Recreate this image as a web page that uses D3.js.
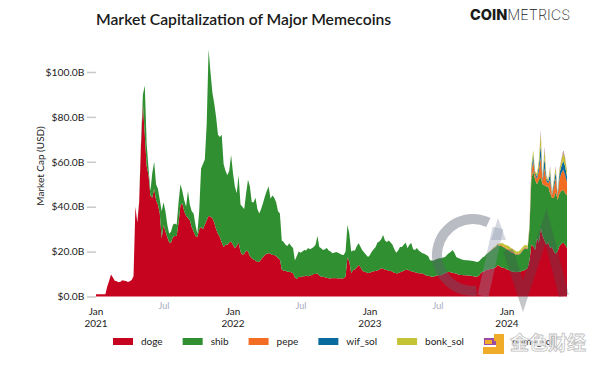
<!DOCTYPE html>
<html>
<head>
<meta charset="utf-8">
<script src="https://cdn.jsdelivr.net/npm/d3@7.9.0/dist/d3.min.js"></script>
<style>
  html, body { margin: 0; background: #fff; }
  svg { display: block; font-family: Lato, sans-serif; }
</style>
</head>
<body>
<svg id="chart" width="600" height="365"></svg>
<script>
// readings are one every 5 days starting 2021-01-01, in $B
const startDate = new Date(2021, 0, 1);
const stepDays = 5;

const doge = [
  1,1,1,1,1,1,4.5,7,9.8,8.5,
  7,6.8,6.4,6.6,7.2,7,6.9,6.5,6.8,7.4,
  9,40,33,42,68,86,72,58,54,45,
  44,48,43,41,37,26,32,29,26.5,24,
  24,26.5,27,27,33,40.7,41.5,38,36,35,
  34,31,29,27,26.5,30,31,30,32,34,
  36,35.5,35,33,30,28,26.5,24,22,23,
  23,24,24.5,23,21.5,22.5,24,20,18.5,19,
  20.5,20,18,17,16.5,16,15.4,15.5,16.5,17.6,
  18.5,19,19.3,19,18.5,18.5,18,17,16.5,12,
  11.5,11.5,11,11,10.8,10.4,8.5,7.8,8.8,8.6,
  9,9,9.2,9,9.2,9.6,10,10,10.4,9.2,
  8.8,8.8,8.6,8.4,8.1,8,8.2,8.1,8.2,8,
  8.1,8,8.1,9,17.5,15.5,10.4,11.8,12,13,
  14,13,11.5,11,10.8,10.5,10.6,11,11.2,11.4,
  11.6,12,12.6,12.4,12,11.8,11.4,11.5,11,10.6,
  10.4,10.4,10.8,11,11.6,11.8,12,11.6,11.2,11,
  10.8,10.6,10.4,10.4,10.2,9.8,9.4,9.2,9,8.8,
  8.8,9.2,9.4,9.6,9.5,10,10.4,10.8,11,10.8,
  10.6,10.4,10.2,9.8,9.6,9.6,9.5,9.5,9.3,9.2,
  9.2,9,8.9,8.8,9.2,10.4,11,11.2,11.8,12,
  12.2,12.4,12.6,13,14,13.6,13,12.8,12.6,12,
  11.8,11.4,11,11,10.8,11,11,11.4,11.6,12,
  12.6,16,23,22.5,20.7,26,24,30.4,27,25,
  23,24,21.6,22,20,19,20,22.5,23.4,24,23,21.6
];

const shib = [
  0,0,0,0,0,0,0,0,0,0,
  0,0,0,0,0,0,0,0,0,0,
  0,0,0,.5,2,4,22,10,3,2,
  11,12,7,7,6,12,10,9,5.5,4,
  5,5.5,5.5,5,9,9.3,5.5,5,4,12,
  7,7,8,5,1.5,8,26,29,29,43,
  74,64.5,56,53,50,44,44.5,48,37,33,
  31,32,38.5,32,27.5,23.5,30,21,21.5,20,
  25.5,32,31,25,25.5,28,23.6,21.5,22.5,24,
  26,28,29.7,24.5,26.5,25.5,24,21,20.5,13,
  12.8,11.5,11.5,12.7,11.7,11.2,7.5,10.2,11.2,10.9,
  11,11.7,11.3,12.6,11.8,11.9,12,13,16.6,12.8,
  12.7,11.9,12.4,13.2,12.4,12,11.1,11.4,11.6,11.5,
  10.9,10.6,10.4,11,14.3,12.5,9.6,8.7,8.5,9.5,
  9.7,9,9,8.5,7.7,7.1,7.9,9,9.8,10.6,
  12.4,12.5,12.9,15,13,12.5,13.6,12.5,12,10.4,
  9.1,10.1,11.2,11,11.4,12.2,9.5,11.4,12.6,10,
  9.9,11,10.1,9.4,9.1,9.2,9.1,8.8,7.2,7.2,
  7.2,7.3,7.4,7.4,7.5,7.4,7.2,7.7,8.3,9,
  10.1,9.1,7.4,7.4,7.2,6.9,6.8,6.7,6.8,6.8,
  6.7,6.8,6.7,6.6,6.4,6.1,6.4,6.6,7,7.5,
  8,8.4,9,9,9,8.9,9.5,9.2,8.9,9,
  8.7,8.4,8.5,8,7.7,7.5,8,8.6,9.4,9.5,
  8.4,14,29,33.5,31.3,24,28,22.6,23,24.6,
  26,25,24.4,22,24,27.6,23,23.5,23.6,23.5,23,23.4
];

// the small coins only show up at the very end, these start at reading 210
const lateStart = 210;
const pepe = [.1,.2,.2,.2,.3,.3,.4,.4,.4,.4,.4,.4,.4,.4,.3,.3,.4,.4,.4,.4,.4,
  .8,3,4.5,2,2.5,4,9,1.5,7.5,2.5,1.5,6,1,4.5,6,1.5,6.5,8,9,8,6];
const wif = [0,0,0,0,0,0,0,0,0,0,.1,.1,.1,.1,.1,.1,.1,.1,.1,.1,.1,
  .4,1.5,2.5,1,1,2,5.5,.7,4.5,1,.7,3,.4,1.8,2.7,.8,2.4,3,4,4,2.6];
const bonk = [.1,.1,.2,.3,.4,.6,1,1.2,1.2,1.4,1.5,1.4,1.2,1.2,1.1,1.1,1.1,1.1,1.1,1,1,
  .7,2,2.3,.8,1.3,2.5,5.5,.7,4,1.3,.7,2.5,.5,1.4,2.3,.6,1.8,2.5,3.9,3.5,2.2];
const bome = [0,0,0,0,0,0,0,0,0,0,0,0,0,0,0,0,0,0,0,0,0,0,0,0,0,0,0,
  1,.1,1,.2,.1,.5,.1,.3,.4,.1,.3,.5,.6,.5,.2];

const seriesNames = ['doge', 'shib', 'pepe', 'wif_sol', 'bonk_sol', 'bome_sol'];
const seriesColors = ['#c7041f', '#2f8f31', '#f26c21', '#0a6a9e', '#c4c336', '#9b4ba6'];
const yTicks = [0, 20, 40, 60, 80, 100];
const majorTicks = [[2021, 'Jan', '2021'], [2022, 'Jan', '2022'], [2023, 'Jan', '2023'], [2024, 'Jan', '2024']];
const minorTicks = [2021, 2022, 2023];

const late = (arr, i) => (i < lateStart ? 0 : arr[i - lateStart]);

const rows = doge.map((d, i) => ({
  date: d3.timeDay.offset(startDate, i * stepDays),
  doge: d,
  shib: shib[i],
  pepe: late(pepe, i),
  wif_sol: late(wif, i),
  bonk_sol: late(bonk, i),
  bome_sol: late(bome, i)
}));

const svg = d3.select('#chart');

const x = d3.scaleTime()
  .domain([startDate, rows[rows.length - 1].date])
  .range([96, 567]);
const y = d3.scaleLinear().domain([0, 100]).range([296.5, 72]);
const color = d3.scaleOrdinal(seriesNames, seriesColors);

const stacked = d3.stack().keys(seriesNames)(rows);
const area = d3.area()
  .x((d) => x(d.data.date))
  .y0((d) => y(d[0]))
  .y1((d) => y(d[1]));

svg.append('g')
  .selectAll('path')
  .data(stacked)
  .join('path')
  .attr('fill', (d) => color(d.key))
  .attr('d', area);

// y axis
const yAxis = svg.append('g')
  .attr('transform', 'translate(96,0)')
  .call(d3.axisLeft(y).tickValues(yTicks).tickSize(9).tickPadding(2.5)
    .tickFormat((d) => `$${d.toFixed(1)}B`));
yAxis.select('.domain').remove();
yAxis.selectAll('line').attr('stroke', '#c9c9c9').attr('stroke-width', 1.5);
yAxis.selectAll('text').attr('font-size', 10.3).attr('font-family', 'Lato').attr('fill', '#222');

svg.append('text')
  .attr('transform', 'translate(44,166) rotate(-90)')
  .attr('text-anchor', 'middle')
  .attr('font-size', 10)
  .attr('fill', '#222')
  .text('Market Cap (USD)');

// x labels, Jan with the year under it and a pale Jul between
const xLabels = svg.append('g').attr('text-anchor', 'middle').attr('font-size', 10).attr('fill', '#222');
majorTicks.forEach(([yr, m, label]) => {
  const px = x(new Date(yr, 0, 1));
  xLabels.append('text').attr('x', px).attr('y', 315).text(m);
  xLabels.append('text').attr('x', px).attr('y', 326.5).text(label);
});
minorTicks.forEach((yr) => {
  xLabels.append('text')
    .attr('x', x(new Date(yr, 6, 1)))
    .attr('y', 309)
    .attr('font-size', 9)
    .attr('fill', '#a7abc0')
    .text('Jul');
});

// title and logo
svg.append('text')
  .attr('x', 96).attr('y', 25)
  .attr('font-size', 15.7)
  .attr('font-weight', 600)
  .attr('fill', '#1a1a1a')
  .text('Market Capitalization of Major Memecoins');

const logo = svg.append('text')
  .attr('x', 470).attr('y', 20)
  .attr('font-family', 'Inter')
  .attr('font-size', 14.5)
  .attr('fill', '#1a1a1a');
logo.append('tspan').attr('font-weight', 800).text('COIN');
logo.append('tspan').attr('font-weight', 200).text('METRICS');

// legend
let legendX = 113;
seriesNames.forEach((name) => {
  const g = svg.append('g').attr('transform', `translate(${legendX},0)`);
  g.append('rect').attr('y', 338).attr('width', 20).attr('height', 7).attr('fill', color(name));
  const label = g.append('text')
    .attr('x', 28).attr('y', 345)
    .attr('font-size', 10)
    .attr('fill', '#222')
    .text(name);
  legendX += 28 + label.node().getComputedTextLength() + 20;
});

// CM watermark over the plot
const mark = svg.append('g').attr('fill', 'none');
mark.append('path')
  .attr('transform', 'translate(473,255)')
  .attr('fill', '#5b6070')
  .attr('opacity', 0.42)
  .attr('d', d3.arc().innerRadius(31).outerRadius(41).startAngle(-Math.PI * 1.03).endAngle(Math.PI * 0.14)());
mark.append('path')
  .attr('d', 'M483,296L498,228')
  .attr('stroke', '#8a93ad').attr('stroke-width', 11).attr('opacity', 0.36);
mark.append('path')
  .attr('fill', '#8a93ad').attr('opacity', 0.36)
  .attr('d', 'M498,218L506,240L491,240Z');
mark.append('path')
  .attr('d', 'M508,250L523,296L546,226L564,296')
  .attr('stroke', '#4a4f58').attr('stroke-width', 10).attr('stroke-linejoin', 'miter').attr('opacity', 0.32);

// publisher stamp in the corner
const stamp = svg.append('g');
stamp.append('path')
  .attr('fill', '#f0ac28')
  .attr('d', 'M494,334L504,334L504,354L483,354L483,347L496,347L496,341L494,341Z');
stamp.append('rect').attr('x', 485).attr('y', 340).attr('width', 7).attr('height', 4).attr('fill', '#f0ac28');
stamp.append('text')
  .attr('x', 510).attr('y', 350)
  .attr('font-family', 'Noto Sans CJK SC')
  .attr('font-size', 19)
  .attr('font-weight', 700)
  .attr('fill', '#fff')
  .attr('stroke', '#b9b9b9')
  .attr('stroke-width', 0.8)
  .attr('opacity', 0.9)
  .text('金色财经');
</script>
</body>
</html>
